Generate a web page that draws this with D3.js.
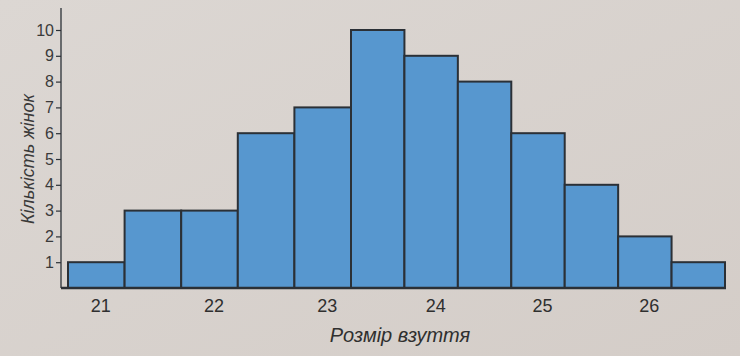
<!DOCTYPE html>
<html><head><meta charset="utf-8">
<script src="https://cdn.jsdelivr.net/npm/d3@7"></script>
<style>body{margin:0;background:#d8d3cf;}svg{display:block;}</style>
</head><body>
<script>
const sizes = [21, 21.5, 22, 22.5, 23, 23.5, 24, 24.5, 25, 25.5, 26, 26.5];
const counts = [1, 3, 3, 6, 7, 10, 9, 8, 6, 4, 2, 1];
const xTicks = [21, 22, 23, 24, 25, 26];
const yTicks = [1, 2, 3, 4, 5, 6, 7, 8, 9, 10];
const xTitle = "Розмір взуття";
const yTitle = "Кількість жінок";

const W = 740, H = 356;
const svg = d3.select("body").append("svg").attr("width", W).attr("height", H);
const bg = svg.append("defs").append("linearGradient").attr("id","bg").attr("x1",0).attr("x2",1).attr("y1",0).attr("y2",1);
bg.append("stop").attr("offset","0%").attr("stop-color","#dcd7d3");
bg.append("stop").attr("offset","100%").attr("stop-color","#d4cdc8");
svg.append("rect").attr("width", W).attr("height", H).attr("fill", "url(#bg)");

// piecewise scale mimics the slight perspective of the photographed page
const x = d3.scaleLinear().domain([20.75, 23.25, 26.75]).range([68, 351, 725]);
const y = d3.scaleLinear().domain([0, 10]).range([288, 30]);
const ink = "#2b3036";

svg.append("g").selectAll("rect").data(sizes).join("rect")
  .attr("x", d => x(d - 0.25))
  .attr("width", d => x(d + 0.25) - x(d - 0.25))
  .attr("y", (d, i) => y(counts[i]))
  .attr("height", (d, i) => y(0) - y(counts[i]))
  .attr("fill", "#5797cf")
  .attr("stroke", ink)
  .attr("stroke-width", 2);

// y axis
const yAxis = svg.append("g").attr("transform", "translate(61,0)")
  .call(d3.axisLeft(y).tickValues(yTicks).tickSize(5).tickPadding(2));
yAxis.select(".domain").remove();
yAxis.selectAll(".tick line").attr("stroke", ink).attr("stroke-width", 1.2);
yAxis.selectAll(".tick text").attr("fill", "#3a3a3a").attr("font-family", "Liberation Sans, Arial, sans-serif").attr("font-size", 16);
svg.append("line").attr("x1", 61).attr("x2", 61).attr("y1", 8).attr("y2", y(0)).attr("stroke", ink).attr("stroke-width", 1.3);

// x axis
svg.append("line").attr("x1", 61).attr("x2", x(26.75) + 1).attr("y1", y(0)).attr("y2", y(0)).attr("stroke", ink).attr("stroke-width", 2.5);
const xAxis = svg.append("g").attr("transform", `translate(0,${y(0)})`)
  .call(d3.axisBottom(x).tickValues(xTicks).tickFormat(d3.format("d")).tickSize(0).tickPadding(11));
xAxis.select(".domain").remove();
xAxis.selectAll(".tick text").attr("fill", "#2f2f2f").attr("font-family", "Liberation Sans, Arial, sans-serif").attr("font-size", 18).attr("dx", 4);

svg.append("text").attr("x", 400).attr("y", 342).attr("text-anchor", "middle")
  .attr("font-family", "Liberation Sans, Arial, sans-serif").attr("font-style", "italic")
  .attr("font-size", 20).attr("fill", "#2f2f2f").text(xTitle);
svg.append("text").attr("transform", "translate(34,159) rotate(-90)").attr("text-anchor", "middle")
  .attr("font-family", "Liberation Sans, Arial, sans-serif").attr("font-style", "italic")
  .attr("font-size", 18).attr("fill", "#3a3a3a").text(yTitle);
</script>
</body></html>
